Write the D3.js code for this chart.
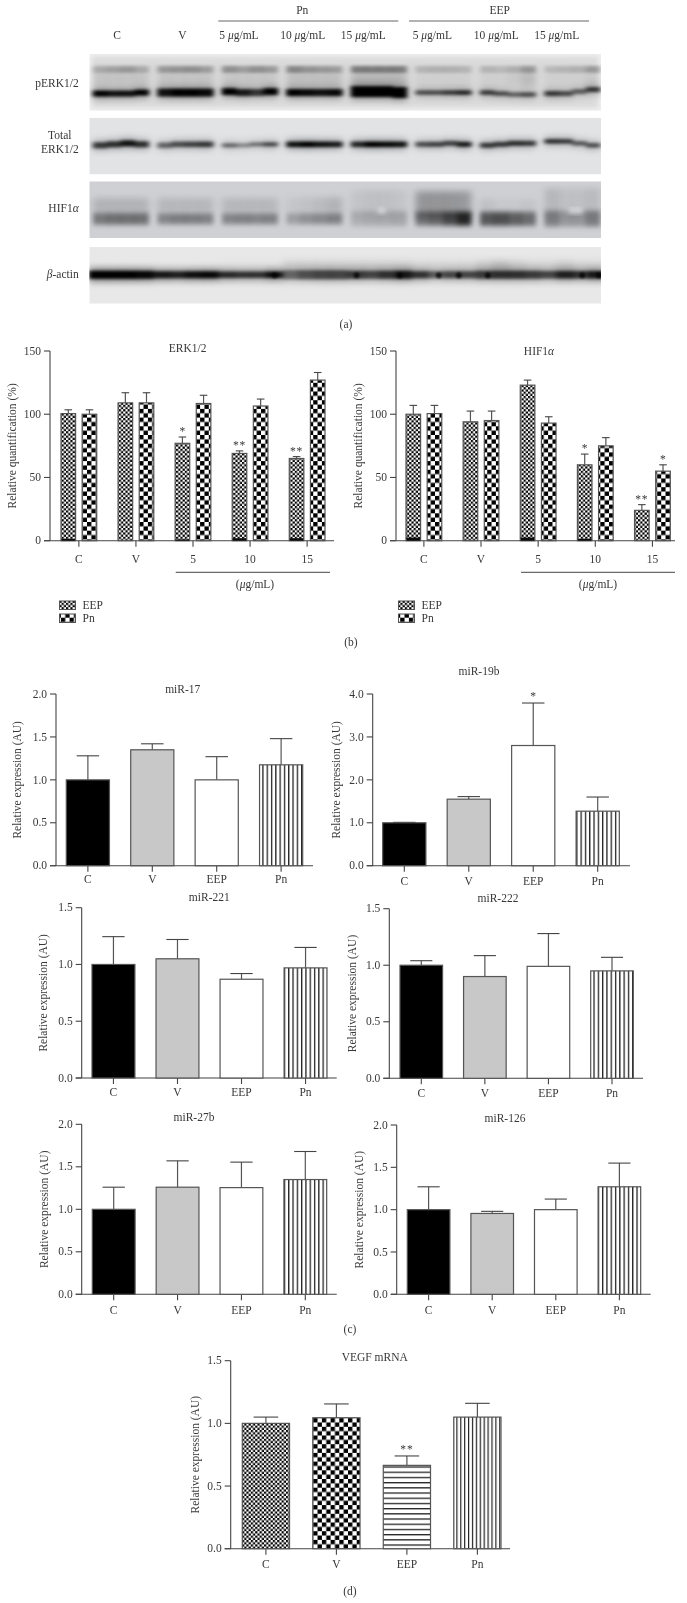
<!DOCTYPE html>
<html>
<head>
<meta charset="utf-8">
<script src="https://cdnjs.cloudflare.com/ajax/libs/d3/7.8.5/d3.min.js"></script>
<style>
  html, body { margin: 0; padding: 0; background: #fff; }
  svg { display: block; }
  text { font-family: "Liberation Serif", serif; font-size: 11.5px; fill: #383838; }
</style>
</head>
<body>
<div id="chart"></div>
<script>
// blot lanes, band darkness per lane (four slices across each lane), read by eye
var laneNames = ["C", "V", "Pn5", "Pn10", "Pn15", "EEP5", "EEP10", "EEP15"];
var perkLower = [[1, 0.9, 0.9, 1], [0.9, 1, 1, 0.95], [1, 0.85, 0.7, 1], [1, 0.95, 0.9, 0.95], [1, 1, 1, 1], [0.6, 0.6, 0.7, 0.8], [0.7, 0.6, 0.5, 0.6], [0.7, 0.6, 0.5, 0.7]];
var perkLowerShift = [[1, 1, 1, 0], [0, 0, 0, 0], [-1, 0, 0, -1], [0, 0, 0, 0], [-1, -1, -1, 0], [0, 0, 0, 0], [0, 1, 2, 2], [1, 1, -1, -3]];
var perkLowerH = [6, 8, 7, 7, 11, 4.5, 4.5, 5];
var perkUpper = [[0.2, 0.24, 0.28, 0.2], [0.28, 0.3, 0.32, 0.26], [0.32, 0.26, 0.32, 0.28], [0.36, 0.3, 0.28, 0.26], [0.4, 0.4, 0.4, 0.4], [0.16, 0.18, 0.18, 0.16], [0.16, 0.14, 0.18, 0.28], [0.14, 0.16, 0.18, 0.28]];
var perkMiddle = [[0.1, 0.1, 0.1, 0.1], [0.1, 0.1, 0.1, 0.1], [0.09, 0.09, 0.09, 0.09], [0.12, 0.12, 0.12, 0.12], [0.16, 0.16, 0.16, 0.16], [0.05, 0.05, 0.05, 0.05], [0.05, 0.05, 0.08, 0.14], [0.05, 0.05, 0.05, 0.08]];
var totalBand = [[0.7, 0.75, 0.9, 0.75], [0.5, 0.6, 0.65, 0.7], [0.5, 0.35, 0.45, 0.65], [0.9, 1, 0.9, 0.85], [0.8, 1, 0.95, 0.9], [0.6, 0.65, 0.65, 0.85], [0.7, 0.7, 0.75, 0.7], [0.75, 0.7, 0.55, 0.6]];
var totalShift = [[1, 0, -1, 0], [1, 0, 0, 0], [1, 1, 0, 0], [0, 0, 0, 0], [0, 0, 0, 0], [0, 0, -1, 0], [1, 0, -1, -1], [-3, -3, -1, 1]];
var totalBandH = [6, 5.5, 4, 5.5, 5.5, 5, 5, 4.5];
var hifLower = [[0.42, 0.46, 0.46, 0.46], [0.36, 0.4, 0.4, 0.38], [0.36, 0.38, 0.36, 0.38], [0.24, 0.3, 0.34, 0.38], [0.14, 0.16, 0.16, 0.18], [0.42, 0.48, 0.62, 0.8], [0.58, 0.62, 0.54, 0.48], [0.34, 0.24, 0.24, 0.36]];
var hifLowerH = [12, 11, 11, 11, 15, 14, 14, 16];
var hifUpper = [[0.14, 0.14, 0.14, 0.14], [0.12, 0.12, 0.12, 0.12], [0.12, 0.12, 0.12, 0.12], [0.05, 0.07, 0.1, 0.14], [0.06, 0.08, 0.08, 0.06], [0.28, 0.28, 0.28, 0.26], [0.08, 0.04, 0.04, 0.06], [0.12, 0.08, 0.08, 0.1]];
var hifUpperH = [14, 14, 14, 16, 30, 28, 12, 34];
var actinBand = [[1, 1, 1, 0.95], [0.85, 0.8, 0.9, 0.95], [0.75, 0.7, 0.7, 0.9], [0.45, 0.55, 0.6, 0.6], [0.65, 0.6, 0.7, 0.85], [0.7, 0.5, 0.6, 0.6], [0.65, 0.7, 0.7, 0.65], [0.6, 0.8, 0.7, 0.85]];
var actinHaze = [[0, 0, 0, 0], [0, 0, 0, 0], [0.02, 0.02, 0.02, 0.02], [0.1, 0.1, 0.1, 0.1], [0.1, 0.1, 0.1, 0.1], [0.07, 0.07, 0.07, 0.07], [0.12, 0.18, 0.12, 0.08], [0.08, 0.12, 0.08, 0.08]];
var actinBandH = [8, 7, 6.5, 9, 8, 7, 8, 7.5];
// lane index, slice position inside the lane
var actinSpots = [[2, 0.95], [4, 0.1], [4, 0.88], [5, 0.42], [5, 0.78], [6, 0.14], [7, 0.68], [7, 0.98]];
var hifLight = [[4, 0.55], [7, 0.5], [7, 0.62]];

// panel b
var doseCats = ["C", "V", "5", "10", "15"];
var erkEEP = [100.5, 109, 77, 69, 65];
var erkEEPTop = [103.5, 117, 82, 71, 66.5];
var erkEEPDark = [1.5, 0, 1, 2, 2];
var erkPn = [100, 109, 108.5, 106.5, 127];
var erkPnTop = [103.5, 117, 115, 112, 133];
var erkStarsEEP = ["", "", "*", "**", "**"];
var erkStarsPn = ["", "", "", "", ""];
var hifEEP = [100, 94, 123, 60, 24];
var hifEEPTop = [107, 102.5, 127, 68.5, 28.5];
var hifEEPDark = [2.5, 0, 2.5, 1.5, 0];
var hifPn = [100.5, 95, 93, 75, 55];
var hifPnTop = [107, 102.5, 98, 81.5, 60];
var hifStarsEEP = ["", "", "", "*", "**"];
var hifStarsPn = ["", "", "", "", "*"];
var quantTicks = [0, 50, 100, 150];

// panels c and d
var groupCats = ["C", "V", "EEP", "Pn"];
var mir17 = [1.0, 1.35, 1.0, 1.175];
var mir17Top = [1.28, 1.42, 1.27, 1.48];
var mir19b = [1.0, 1.55, 2.8, 1.27];
var mir19bTop = [1.01, 1.61, 3.79, 1.6];
var mir19bStars = ["", "", "*", ""];
var mir221 = [1.0, 1.05, 0.87, 0.97];
var mir221Top = [1.245, 1.22, 0.92, 1.15];
var mir222 = [1.0, 0.9, 0.99, 0.95];
var mir222Top = [1.04, 1.085, 1.28, 1.07];
var mir27b = [1.0, 1.26, 1.255, 1.35];
var mir27bTop = [1.26, 1.57, 1.555, 1.68];
var mir126 = [1.0, 0.955, 1.0, 1.27];
var mir126Top = [1.27, 0.98, 1.125, 1.55];
var vegf = [1.0, 1.045, 0.665, 1.05];
var vegfTop = [1.05, 1.155, 0.74, 1.16];
var vegfStars = ["", "", "**", ""];
var ticks2 = [0, 0.5, 1, 1.5, 2];
var ticks4 = [0, 1, 2, 3, 4];
var ticks15 = [0, 0.5, 1, 1.5];

var svg = d3.select("#chart").append("svg")
    .attr("width", 687)
    .attr("height", 1603);

var defs = svg.append("defs");

function checker(id, size) {
  var p = defs.append("pattern")
      .attr("id", id)
      .attr("patternUnits", "userSpaceOnUse")
      .attr("width", size * 2)
      .attr("height", size * 2);
  p.append("rect").attr("width", size * 2).attr("height", size * 2).attr("fill", "#fff");
  p.append("rect").attr("width", size).attr("height", size).attr("fill", "#000");
  p.append("rect").attr("x", size).attr("y", size).attr("width", size).attr("height", size).attr("fill", "#000");
}
function stripes(id, w, h, bw, bh) {
  var p = defs.append("pattern")
      .attr("id", id)
      .attr("patternUnits", "userSpaceOnUse")
      .attr("width", w)
      .attr("height", h);
  p.append("rect").attr("width", w).attr("height", h).attr("fill", "#fff");
  p.append("rect").attr("width", bw).attr("height", bh).attr("fill", "#222");
}
checker("fine", 2.2);
checker("coarse", 4.35);
stripes("vlines", 4.3, 10, 1.3, 10);
stripes("vfine", 3.9, 10, 1.2, 10);
stripes("hlines", 10, 5.2, 10, 1.3);

function blur(id, dev) {
  defs.append("filter")
      .attr("id", id)
      .attr("x", "-20%").attr("y", "-40%")
      .attr("width", "140%").attr("height", "180%")
    .append("feGaussianBlur")
      .attr("stdDeviation", dev);
}
blur("soft", 0.35);
blur("spot", 1.1);
blur("band", "2.6 1.4");
blur("hifband", "2.6 2.6");
blur("smear", "3.5 3");
blur("edge", 2.5);

// ---- panel a ----
var rowW = 511.7, rowH = 56.7, rowX = 89.3;
var lanes = d3.scaleBand().domain(laneNames).range([93 - rowX, 600 - rowX]).paddingInner(0.14);
var slice = d3.scaleBand().domain([0, 1, 2, 3]).range([0, lanes.bandwidth()]);

function flat(h) { return laneNames.map(function() { return h; }); }
function grow(hs, by) { return hs.map(function(h) { return h + by; }); }

var blots = [
  {top: 54, bg: "#dadadb", fade: true, layers: [
    {y: 0.44, vals: perkMiddle, hs: flat(16), f: "smear"},
    {y: 0.27, vals: perkUpper, hs: flat(7), f: "band"},
    {y: 0.68, vals: perkLower, hs: grow(perkLowerH, 6), shift: perkLowerShift, f: "smear", scale: 0.3},
    {y: 0.68, vals: perkLower, hs: perkLowerH, shift: perkLowerShift, f: "band"}
  ]},
  {top: 117.7, bg: "#e2e3e5", layers: [
    {y: 0.47, vals: totalBand, hs: grow(totalBandH, 6), shift: totalShift, f: "smear", scale: 0.3},
    {y: 0.47, vals: totalBand, hs: totalBandH, shift: totalShift, f: "band"}
  ]},
  {top: 181.3, bg: "#cfd0d4", layers: [
    {y: 0.42, vals: hifUpper, hs: hifUpperH, f: "smear"},
    {y: 0.66, vals: hifLower, hs: hifLowerH, f: "hifband"}
  ], light: hifLight, lightY: 0.52},
  {top: 247, bg: "#e8e8e9", layers: [
    {y: 0.36, vals: actinHaze, hs: flat(14), f: "smear", wide: true},
    {y: 0.49, vals: actinBand, hs: grow(actinBandH, 7), f: "smear", wide: true, scale: 0.4},
    {y: 0.49, vals: actinBand, hs: actinBandH, f: "band", wide: true}
  ], spots: actinSpots, spotY: 0.5}
];

defs.append("clipPath").attr("id", "rowclip")
  .append("rect").attr("x", 0).attr("y", 0).attr("width", rowW).attr("height", rowH);

function sliceX(lane, s, wide) {
  var w = slice.bandwidth() + (wide ? 2.2 : 0);
  return lanes(laneNames[lane]) + s * w - (wide ? 4 : 0);
}

blots.forEach(function(b) {
  var row = svg.append("g")
      .attr("transform", "translate(" + rowX + "," + b.top + ")")
      .attr("clip-path", "url(#rowclip)");
  if (b.fade) {
    row.append("rect").attr("width", rowW).attr("height", rowH).attr("fill", "#eeeeef");
    row.append("rect").attr("x", 3).attr("y", 3).attr("width", rowW - 6).attr("height", rowH - 6)
        .attr("fill", b.bg).attr("filter", "url(#edge)");
  } else {
    row.append("rect").attr("width", rowW).attr("height", rowH).attr("fill", b.bg);
  }
  b.layers.forEach(function(l) {
    var layer = row.append("g").attr("filter", "url(#" + l.f + ")");
    l.vals.forEach(function(lane, i) {
      layer.selectAll(null)
          .data(lane)
        .enter().append("rect")
          .attr("x", function(d, s) { return sliceX(i, s, l.wide); })
          .attr("width", slice.bandwidth() + (l.wide ? 2.2 : 0) + 0.4)
          .attr("y", function(d, s) { return rowH * l.y - l.hs[i] / 2 + (l.shift ? l.shift[i][s] : 0); })
          .attr("height", l.hs[i])
          .attr("fill", "#000")
          .attr("opacity", function(d) { return d * (l.scale || 1); });
    });
  });
  if (b.spots) {
    row.append("g").attr("filter", "url(#spot)").selectAll("ellipse")
        .data(b.spots)
      .enter().append("ellipse")
        .attr("cx", function(d) { return lanes(laneNames[d[0]]) + d[1] * lanes.bandwidth(); })
        .attr("cy", rowH * b.spotY)
        .attr("rx", 3)
        .attr("ry", 2.8)
        .attr("fill", "#000")
        .attr("opacity", 0.75);
  }
  if (b.light) {
    row.append("g").attr("filter", "url(#hifband)").selectAll("ellipse")
        .data(b.light)
      .enter().append("ellipse")
        .attr("cx", function(d) { return lanes(laneNames[d[0]]) + d[1] * lanes.bandwidth(); })
        .attr("cy", rowH * b.lightY)
        .attr("rx", 4)
        .attr("ry", 2.5)
        .attr("fill", "#f2f2f4")
        .attr("opacity", 0.8);
  }
});

function plain(x, y, str, anchor) {
  return svg.append("text")
      .attr("x", x)
      .attr("y", y)
      .attr("text-anchor", anchor || "middle")
      .attr("filter", "url(#soft)")
      .text(str);
}
function greek(x, y, before, letter, after, anchor) {
  var t = svg.append("text")
      .attr("x", x)
      .attr("y", y)
      .attr("text-anchor", anchor || "middle")
      .attr("filter", "url(#soft)");
  t.append("tspan").text(before);
  t.append("tspan").attr("font-style", "italic").text(letter);
  t.append("tspan").text(after);
  return t;
}

var doseLabels = [["5", 239], ["10", 302.7], ["15", 363.3], ["5", 432.3], ["10", 496.3], ["15", 556.7]];
plain(117, 39, "C");
plain(182.3, 39, "V");
doseLabels.forEach(function(d) { greek(d[1], 39, d[0] + " ", "μ", "g/mL"); });
plain(302.3, 14, "Pn");
plain(499.7, 14, "EEP");
[[218.3, 398.3], [409, 589]].forEach(function(d) {
  svg.append("line")
      .attr("x1", d[0]).attr("x2", d[1])
      .attr("y1", 21).attr("y2", 21)
      .attr("stroke", "#666").attr("stroke-width", 1);
});
plain(78.7, 86.5, "pERK1/2", "end");
plain(71.5, 138.5, "Total", "end");
plain(78.7, 152.5, "ERK1/2", "end");
greek(78.7, 211.5, "HIF1", "α", "", "end");
greek(78.7, 278, "", "β", "-actin", "end");

// ---- bar helpers ----
function fillOf(name) {
  if (name === "black") return "#000";
  if (name === "gray") return "#c8c8c8";
  if (name === "white") return "#fff";
  return "url(#" + name + ")";
}

function frame(f) {
  var g = svg.append("g").attr("filter", "url(#soft)");
  var y = d3.scaleLinear().domain([0, f.max]).range([f.y0, f.yTop]);
  var yAxis = d3.axisLeft(y)
      .tickValues(f.ticks)
      .tickFormat(d3.format(f.format))
      .tickSize(6)
      .tickPadding(3)
      .tickSizeOuter(0)
      .offset(0);
  var ya = g.append("g").attr("transform", "translate(" + f.axisX + ",0)").call(yAxis);
  ya.selectAll("path,line").attr("stroke", "#444").attr("stroke-width", 1.1);
  ya.attr("font-family", null).attr("font-size", null);

  g.append("text")
      .attr("transform", "translate(" + f.labelX + "," + (f.y0 + f.yTop) / 2 + ")rotate(-90)")
      .attr("text-anchor", "middle")
      .text(f.label);

  var t = g.append("text").attr("x", f.titleX).attr("y", f.titleY).attr("text-anchor", "middle");
  t.append("tspan").text(f.title);
  if (f.titleGreek) t.append("tspan").attr("font-style", "italic").text(f.titleGreek);
  return {g: g, y: y};
}

function xAxis(g, f, x) {
  var xa = g.append("g")
      .attr("transform", "translate(0," + f.y0 + ")")
      .call(d3.axisBottom(x).tickSize(6).tickPadding(f.pad).tickSizeOuter(0).offset(0));
  xa.select(".domain").remove();
  xa.selectAll("line").attr("stroke", "#444").attr("stroke-width", 1.1);
  xa.attr("font-family", null).attr("font-size", null);
  g.append("line")
      .attr("x1", f.axisX - 6).attr("x2", f.axisEnd)
      .attr("y1", f.y0).attr("y2", f.y0)
      .attr("stroke", "#444").attr("stroke-width", 1.1);
}

function bars(g, y, xOf, width, vals, tops, fills, stars, starGap, dark) {
  var n = g.append("g");
  // whiskers first so the bars sit on top of them
  n.selectAll(".whisker")
      .data(vals)
    .enter().append("line")
      .attr("x1", function(d, i) { return xOf(i) + width / 2; })
      .attr("x2", function(d, i) { return xOf(i) + width / 2; })
      .attr("y1", function(d) { return y(d); })
      .attr("y2", function(d, i) { return y(tops[i]); })
      .attr("stroke", "#555").attr("stroke-width", 1.2);
  n.selectAll(".cap")
      .data(tops)
    .enter().append("line")
      .attr("x1", function(d, i) { return xOf(i) + width * 0.24; })
      .attr("x2", function(d, i) { return xOf(i) + width * 0.76; })
      .attr("y1", function(d) { return y(d); })
      .attr("y2", function(d) { return y(d); })
      .attr("stroke", "#444").attr("stroke-width", 1.1);
  n.selectAll(".bar")
      .data(vals)
    .enter().append("rect")
      .attr("x", function(d, i) { return xOf(i); })
      .attr("width", width)
      .attr("y", function(d) { return y(d); })
      .attr("height", function(d) { return y(0) - y(d); })
      .attr("fill", function(d, i) { return fillOf(fills[i]); })
      .attr("stroke", "#555")
      .attr("stroke-width", 1.2);
  if (dark) {
    n.selectAll(".dark")
        .data(dark)
      .enter().append("rect")
        .attr("x", function(d, i) { return xOf(i) + 0.5; })
        .attr("width", width - 1)
        .attr("y", function(d) { return y(d); })
        .attr("height", function(d) { return y(0) - y(d); })
        .attr("fill", "#111");
  }
  if (stars) {
    n.selectAll(".star")
        .data(stars)
      .enter().append("text")
        .attr("x", function(d, i) { return xOf(i) + width / 2; })
        .attr("y", function(d, i) { return y(tops[i]) - starGap; })
        .attr("text-anchor", "middle")
        .attr("letter-spacing", function(d) { return d.length > 1 ? 0.8 : 0; })
        .text(function(d) { return d; });
  }
}

function single(f) {
  var fr = frame(f);
  var x = d3.scaleBand().domain(groupCats).range(f.range).paddingInner(f.inner || 0.33);
  xAxis(fr.g, f, x);
  bars(fr.g, fr.y, function(i) { return x(groupCats[i]); }, x.bandwidth(), f.vals, f.tops, f.fills, f.stars, 3);
}

function grouped(f) {
  var fr = frame(f);
  var x = d3.scaleBand().domain(doseCats).range(f.range).paddingInner(0.374);
  var inner = d3.scaleBand().domain(["EEP", "Pn"]).range([0, x.bandwidth()]).paddingInner(0.31);
  xAxis(fr.g, f, x);
  var eepFill = doseCats.map(function() { return "fine"; });
  var pnFill = doseCats.map(function() { return "coarse"; });
  bars(fr.g, fr.y, function(i) { return x(doseCats[i]) + inner("EEP"); }, inner.bandwidth(), f.eep, f.eepTop, eepFill, f.eepStars, 2, f.eepDark);
  bars(fr.g, fr.y, function(i) { return x(doseCats[i]) + inner("Pn"); }, inner.bandwidth(), f.pn, f.pnTop, pnFill, f.pnStars, 2);

  // dose bracket and legend
  fr.g.append("line")
      .attr("x1", f.bracket[0]).attr("x2", f.bracket[1])
      .attr("y1", 572.3).attr("y2", 572.3)
      .attr("stroke", "#444").attr("stroke-width", 1);
  var unit = fr.g.append("text")
      .attr("x", f.unitX).attr("y", 588)
      .attr("text-anchor", "middle");
  unit.append("tspan").text("(");
  unit.append("tspan").attr("font-style", "italic").text("μ");
  unit.append("tspan").text("g/mL)");
  [["EEP", "fine", 601], ["Pn", "coarse", 614]].forEach(function(d) {
    fr.g.append("rect")
        .attr("x", f.legendX).attr("y", d[2])
        .attr("width", 16).attr("height", 8.5)
        .attr("fill", fillOf(d[1]))
        .attr("stroke", "#555").attr("stroke-width", 1);
    fr.g.append("text")
        .attr("x", f.legendX + 23).attr("y", d[2] + 8)
        .text(d[0]);
  });
}

// ---- panel b ----
grouped({max: 150, yTop: 351, y0: 540.7, axisX: 50, axisEnd: 334, labelX: 16, ticks: quantTicks, format: "d",
  label: "Relative quantification (%)", title: "ERK1/2", titleX: 187.7, titleY: 352, range: [61, 325], pad: 8,
  eep: erkEEP, eepTop: erkEEPTop, eepDark: erkEEPDark, pn: erkPn, pnTop: erkPnTop, eepStars: erkStarsEEP, pnStars: erkStarsPn,
  bracket: [175.7, 330], unitX: 255, legendX: 59.5});
grouped({max: 150, yTop: 351, y0: 540.7, axisX: 396, axisEnd: 675, labelX: 362, ticks: quantTicks, format: "d",
  label: "Relative quantification (%)", title: "HIF1", titleGreek: "α", titleX: 539, titleY: 355, range: [406, 670.3], pad: 8,
  eep: hifEEP, eepTop: hifEEPTop, eepDark: hifEEPDark, pn: hifPn, pnTop: hifPnTop, eepStars: hifStarsEEP, pnStars: hifStarsPn,
  bracket: [521, 675], unitX: 598, legendX: 398.5});

// ---- panel c ----
var mirFills = ["black", "gray", "white", "vlines"];
var mirLabel = "Relative expression (AU)";
single({max: 2, yTop: 694, y0: 865.7, axisX: 56, axisEnd: 313, labelX: 21, ticks: ticks2, format: ".1f",
  label: mirLabel, title: "miR-17", titleX: 182.7, titleY: 692.5, range: [66.3, 302.7], pad: 3,
  vals: mir17, tops: mir17Top, fills: mirFills});
single({max: 4, yTop: 694, y0: 865.7, axisX: 372.7, axisEnd: 630, labelX: 340, ticks: ticks4, format: ".1f",
  label: mirLabel, title: "miR-19b", titleX: 479, titleY: 675, range: [382.7, 619.3], pad: 5,
  vals: mir19b, tops: mir19bTop, fills: mirFills, stars: mir19bStars});
single({max: 1.5, yTop: 907.7, y0: 1078, axisX: 81.7, axisEnd: 336.7, labelX: 47, ticks: ticks15, format: ".1f",
  label: mirLabel, title: "miR-221", titleX: 209.3, titleY: 900.5, range: [92, 327], pad: 4,
  vals: mir221, tops: mir221Top, fills: mirFills});
single({max: 1.5, yTop: 908.7, y0: 1078.3, axisX: 389.3, axisEnd: 643, labelX: 355.5, ticks: ticks15, format: ".1f",
  label: mirLabel, title: "miR-222", titleX: 498, titleY: 901.5, range: [400, 633.3], pad: 4.5,
  vals: mir222, tops: mir222Top, fills: mirFills});
single({max: 2, yTop: 1124.3, y0: 1294.3, axisX: 81.7, axisEnd: 336.7, labelX: 48, ticks: ticks2, format: ".1f",
  label: mirLabel, title: "miR-27b", titleX: 194, titleY: 1121, range: [92.3, 326.7], pad: 5.5,
  vals: mir27b, tops: mir27bTop, fills: mirFills});
single({max: 2, yTop: 1125, y0: 1294.3, axisX: 396.7, axisEnd: 650.7, labelX: 363, ticks: ticks2, format: ".1f",
  label: mirLabel, title: "miR-126", titleX: 505, titleY: 1121.5, range: [407.3, 640.7], pad: 5.5,
  vals: mir126, tops: mir126Top, fills: mirFills});

// ---- panel d ----
single({max: 1.5, yTop: 1360.7, y0: 1548.7, axisX: 230.7, axisEnd: 510, labelX: 199, ticks: ticks15, format: ".1f",
  label: mirLabel, title: "VEGF mRNA", titleX: 374.7, titleY: 1361, range: [242.3, 501], pad: 5.5, inner: 0.33,
  vals: vegf, tops: vegfTop, fills: ["fine", "coarse", "hlines", "vfine"], stars: vegfStars});

plain(346, 328, "(a)");
plain(351, 646, "(b)");
plain(350, 1333, "(c)");
plain(350, 1595, "(d)");
</script>
</body>
</html>
